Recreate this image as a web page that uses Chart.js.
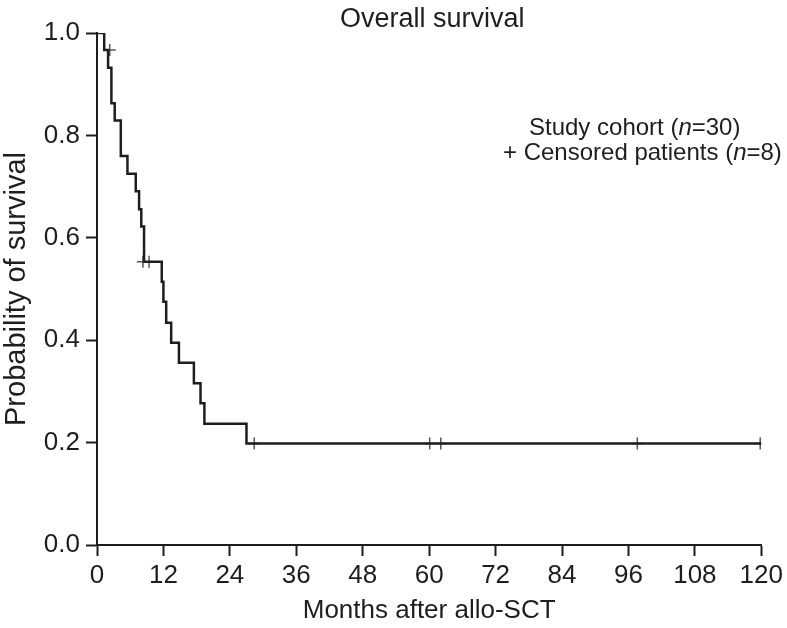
<!DOCTYPE html>
<html>
<head>
<meta charset="utf-8">
<script src="https://cdn.jsdelivr.net/npm/chart.js@4/dist/chart.umd.min.js"></script>
<style>
  html, body { margin: 0; padding: 0; background: #fff; }
  #wrap { width: 787px; height: 628px; position: relative; }
</style>
</head>
<body>
<div id="wrap"><canvas id="kmChart"></canvas></div>
<script>
// Kaplan-Meier curve
const survMonths = [0, 1.3, 2.0, 2.6, 3.2, 4.3, 5.5, 7.0, 7.6, 8.0, 8.5, 11.7, 12.0, 12.5, 13.4, 14.8, 17.5, 18.7, 19.4, 27.0, 120];
const survProb = [1.0, 0.967, 0.932, 0.863, 0.829, 0.760, 0.725, 0.691, 0.656, 0.622, 0.553, 0.514, 0.475, 0.434, 0.395, 0.356, 0.316, 0.277, 0.237, 0.198, 0.198];
const censorMonths = [2.3, 8.3, 9.4, 28.4, 60.1, 62.1, 97.6, 119.8];
const censorProb = [0.967, 0.553, 0.553, 0.198, 0.198, 0.198, 0.198, 0.198];
const xTicks = [0, 12, 24, 36, 48, 60, 72, 84, 96, 108, 120];
const yTicks = [0.0, 0.2, 0.4, 0.6, 0.8, 1.0];

const FONT = "'Liberation Sans', Arial, Helvetica, sans-serif";
const INK = '#1e1e1e';

// title and legend drawn by hand (italic n)
const textPlugin = {
    id: 'textPlugin',
    afterDraw(chart) {
        const c = chart.ctx;
        const area = chart.chartArea;
        c.save();
        c.fillStyle = INK;
        c.textBaseline = 'middle';
        c.font = '27px ' + FONT;
        c.textAlign = 'center';
        c.fillText('Overall survival', (area.left + area.right) / 2 + 3, 20);

        c.textAlign = 'left';
        const parts = (x, y, list) => {
            list.forEach(([txt, it]) => {
                c.font = (it ? 'italic ' : '') + '24px ' + FONT;
                c.fillText(txt, x, y);
                x += c.measureText(txt).width;
            });
        };
        parts(529, 128, [['Study cohort (', false], ['n', true], ['=30)', false]]);
        parts(503, 153, [['+ Censored patients (', false], ['n', true], ['=8)', false]]);
        c.restore();
    }
};

new Chart(document.getElementById('kmChart'), {
    type: 'line',
    data: {
        datasets: [{
            label: 'Study cohort',
            data: survMonths.map((m, i) => ({ x: m, y: survProb[i] })),
            stepped: 'before',
            borderColor: INK,
            borderWidth: 2.5,
            pointRadius: 0,
            fill: false
        }, {
            label: 'Censored patients',
            type: 'scatter',
            data: censorMonths.map((m, i) => ({ x: m, y: censorProb[i] })),
            pointStyle: 'cross',
            pointRadius: 6,
            borderColor: '#555',
            borderWidth: 1.5,
            showLine: false
        }]
    },
    options: {
        responsive: true,
        maintainAspectRatio: false,
        animation: false,
        layout: { padding: { top: 33, right: 23, bottom: 0, left: 0 } },
        plugins: {
            legend: { display: false },
            tooltip: { enabled: false }
        },
        scales: {
            x: {
                type: 'linear',
                min: 0,
                max: 120,
                afterFit: s => { s.height = 83; },
                afterBuildTicks: s => { s.ticks = xTicks.map(v => ({ value: v })); },
                border: { color: INK, width: 2 },
                grid: { drawOnChartArea: false, drawTicks: true, tickLength: 11, tickWidth: 2, tickColor: INK },
                ticks: { color: INK, padding: 4, font: { family: FONT, size: 26 }, maxRotation: 0 },
                title: { display: true, text: 'Months after allo-SCT', color: INK, font: { family: FONT, size: 26 }, padding: { top: 0, bottom: 2 } }
            },
            y: {
                min: 0,
                max: 1,
                afterFit: s => { s.width = 97; },
                afterBuildTicks: s => { s.ticks = yTicks.map(v => ({ value: v })); },
                border: { color: INK, width: 2 },
                grid: { drawOnChartArea: false, drawTicks: true, tickLength: 11, tickWidth: 2, tickColor: INK },
                ticks: { color: INK, padding: 6, font: { family: FONT, size: 26 }, callback: v => v.toFixed(1) },
                title: { display: true, text: 'Probability of survival', color: INK, font: { family: FONT, size: 29 }, padding: { top: 0, bottom: 0 } }
            }
        }
    },
    plugins: [textPlugin]
});
</script>
</body>
</html>
